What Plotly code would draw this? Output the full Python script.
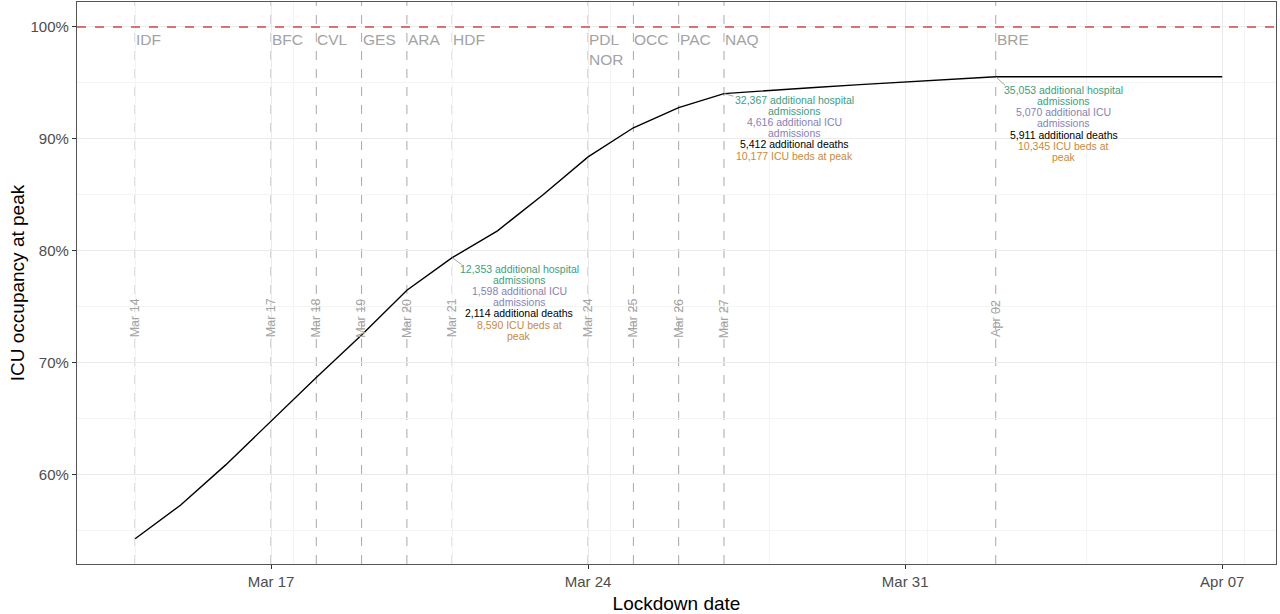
import plotly.graph_objects as go

# ICU occupancy at peak as a function of lockdown date
dates = ['2020-03-14', '2020-03-15', '2020-03-16', '2020-03-17', '2020-03-18', '2020-03-19',
         '2020-03-20', '2020-03-21', '2020-03-22', '2020-03-23', '2020-03-24', '2020-03-25',
         '2020-03-26', '2020-03-27', '2020-03-28', '2020-03-29', '2020-03-30', '2020-03-31',
         '2020-04-01', '2020-04-02', '2020-04-03', '2020-04-04', '2020-04-05', '2020-04-06',
         '2020-04-07']
occupancy = [54.3, 57.3, 60.9, 64.8, 68.7, 72.5, 76.5, 79.4, 81.8, 85.0, 88.4, 91.0,
             92.8, 94.05, 94.35, 94.6, 94.85, 95.1, 95.35, 95.55, 95.55, 95.55, 95.55, 95.55,
             95.55]

# regions that reach saturation, by lockdown date
region_dates = ['2020-03-14', '2020-03-17', '2020-03-18', '2020-03-19', '2020-03-20', '2020-03-21',
                '2020-03-24', '2020-03-25', '2020-03-26', '2020-03-27', '2020-04-02']
region_labels = ['IDF', 'BFC', 'CVL', 'GES', 'ARA', 'HDF', 'PDL<br>NOR', 'OCC', 'PAC', 'NAQ', 'BRE']
date_labels = ['Mar 14', 'Mar 17', 'Mar 18', 'Mar 19', 'Mar 20', 'Mar 21',
               'Mar 24', 'Mar 25', 'Mar 26', 'Mar 27', 'Apr 02']

# annotated lockdown dates
note_dates = ['2020-03-21', '2020-03-27', '2020-04-02']
note_values = [79.4, 94.05, 95.55]
note_hosp = ['12,353 additional hospital<br>admissions', '32,367 additional hospital<br>admissions',
             '35,053 additional hospital<br>admissions']
note_icu = ['1,598 additional ICU<br>admissions', '4,616 additional ICU<br>admissions',
            '5,070 additional ICU<br>admissions']
note_deaths = ['2,114 additional deaths', '5,412 additional deaths', '5,911 additional deaths']
note_beds = ['8,590 ICU beds at<br>peak', '10,177 ICU beds at peak', '10,345 ICU beds at<br>peak']

GREEN = '#3d9d80'
PURPLE = '#8781b6'
ORANGE = '#c98a3e'
GREY_TXT = '#a3a3a3'
FONT = 'Liberation Sans, Arial, sans-serif'

# pixel offsets of the label blocks relative to their point
note_dx = [67, 71, 68]
note_dy = [11, 6, 13]
LINE_H = 11.2

fig = go.Figure()
fig.add_trace(go.Scatter(x=dates, y=occupancy, mode='lines',
                         line=dict(color='black', width=1.4), showlegend=False))

# saturation line
fig.add_hline(y=100, line=dict(color='#cc4a4a', width=1.5, dash='dash'))

for d, lab, dl in zip(region_dates, region_labels, date_labels):
    fig.add_shape(type='line', x0=d, x1=d, xref='x', y0=0, y1=1, yref='paper',
                  line=dict(color='#a8a8a8', width=1, dash='dash'), layer='below')
    fig.add_annotation(x=d, y=99.8, text=lab, showarrow=False, xanchor='left', yanchor='top',
                       xshift=-1, align='left',
                       font=dict(family=FONT, size=15.5, color=GREY_TXT))
    fig.add_annotation(x=d, y=74.0, text=dl, showarrow=False, textangle=-90,
                       font=dict(family=FONT, size=12.5, color=GREY_TXT))

for i in range(len(note_dates)):
    x, y = note_dates[i], note_values[i]
    # small connector from the point to the text
    fig.add_annotation(x=x, y=y, text='', showarrow=True, arrowhead=0, arrowwidth=0.9,
                       arrowcolor='#9a9a9a', ax=11, ay=note_dy[i] - 3)
    lines = []
    for txt, col in [(note_hosp[i], GREEN), (note_icu[i], PURPLE),
                     (note_deaths[i], 'black'), (note_beds[i], ORANGE)]:
        for part in txt.split('<br>'):
            lines.append((part, col))
    for k, (part, col) in enumerate(lines):
        fig.add_annotation(x=x, y=y, text=part, showarrow=False, xanchor='center', yanchor='middle',
                           xshift=note_dx[i], yshift=-(note_dy[i] + LINE_H * k),
                           font=dict(family=FONT, size=10.5, color=col))

fig.update_layout(
    width=1280, height=614,
    margin=dict(l=77, r=4, t=2, b=50),
    paper_bgcolor='white', plot_bgcolor='white',
    font=dict(family=FONT, color='#4d4d4d'),
    showlegend=False,
)
fig.update_xaxes(
    type='date', range=['2020-03-12 17:12', '2020-04-08 04:30'],
    tick0='2020-03-17', dtick=7 * 86400000, tickformat='%b %d',
    ticks='outside', ticklen=4, tickcolor='#333333', tickfont=dict(size=15, color='#4d4d4d'),
    showgrid=True, gridcolor='#ebebeb', gridwidth=1,
    minor=dict(dtick=3.5 * 86400000, showgrid=True, gridcolor='#f4f4f4', gridwidth=1),
    showline=True, linecolor='#555555', linewidth=1.3, mirror=True,
    zeroline=False, automargin=False,
    title=dict(text='Lockdown date', font=dict(size=19, color='black'), standoff=8),
)
fig.update_yaxes(
    range=[52.05, 102.23], tick0=60, dtick=10, ticksuffix='%',
    ticks='outside', ticklen=4, tickcolor='#333333', tickfont=dict(size=15, color='#4d4d4d'),
    showgrid=True, gridcolor='#ebebeb', gridwidth=1,
    minor=dict(dtick=5, showgrid=True, gridcolor='#f4f4f4', gridwidth=1),
    showline=True, linecolor='#555555', linewidth=1.3, mirror=True,
    zeroline=False, automargin=False,
    title=dict(text='ICU occupancy at peak', font=dict(size=19, color='black'), standoff=0),
)

# the page body has a default 8px margin; remove it so the figure fills the window
fig.write_html('out.html', config={'displayModeBar': False},
               post_script="document.body.style.margin='0';")
